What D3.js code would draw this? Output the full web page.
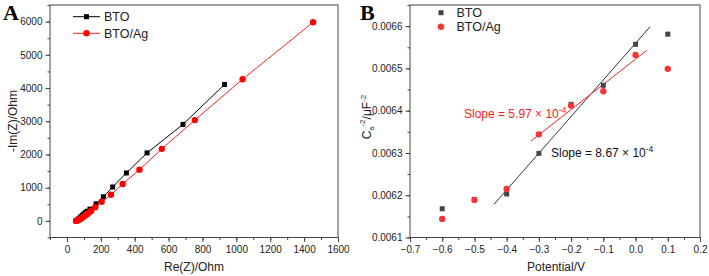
<!DOCTYPE html>
<html>
<head>
<meta charset="utf-8">
<script src="https://cdn.jsdelivr.net/npm/d3@7"></script>
<style>
  body { margin: 0; background: #fff; }
  svg text { font-family: Arial, "Liberation Sans", sans-serif; }
  svg text.panel { font-family: "Liberation Serif", "DejaVu Serif", serif; font-weight: bold; }
</style>
</head>
<body>
<svg id="chart" width="709" height="276"></svg>
<script>
/* Panel A: Nyquist data, Re(Z) and -Im(Z) in Ohm */
var btoRe = [54, 57, 62, 68, 75, 82, 90, 98, 108, 120, 136, 172, 215, 270, 351, 473, 685, 930];
var btoIm = [2, 12, 30, 55, 85, 120, 160, 200, 251, 290, 354, 514, 726, 1020, 1443, 2048, 2905, 4106];
var agRe = [54, 57, 61, 66, 72, 78, 85, 92, 100, 110, 120, 130, 143, 167, 205, 260, 329, 428, 560, 755, 1037, 1453];
var agIm = [0, 5, 13, 25, 40, 58, 80, 105, 135, 170, 210, 250, 300, 414, 575, 787, 1110, 1543, 2169, 3035, 4266, 5982];

/* Panel B: Mott-Schottky data */
var potential = [-0.6, -0.5, -0.4, -0.3, -0.2, -0.1, 0.0, 0.1];
var btoCs = [0.006168, 0.00619, 0.006203, 0.006299, 0.006415, 0.00646, 0.006557, 0.006581];
var agCs = [0.006144, 0.006189, 0.006215, 0.006344, 0.006412, 0.006446, 0.006532, 0.006499];

/* Linear fits: slope, intercept at 0 V, start and end potential */
var btoFit = [8.67e-4, 0.0065595, -0.44, 0.045];
var agFit = [5.97e-4, 0.006522, -0.325, 0.035];

var seriesNames = ["BTO", "BTO/Ag"];

var svg = d3.select("#chart");
var frameColor = "#444";

/* Draw a boxed Origin-style frame with outward ticks */
function drawFrame(x, y, xMajor, xMinor, yMajor, yMinor, xFmt, yFmt) {
	var x0 = x.range()[0], x1 = x.range()[1];
	var y0 = y.range()[0], y1 = y.range()[1];
	var g = svg.append("g");

	var xa = g.append("g")
		.attr("transform", "translate(0," + y0 + ")")
		.call(d3.axisBottom(x).tickValues(xMinor).tickSize(2.5).tickFormat(""));
	xa.select(".domain").remove();
	var xb = g.append("g")
		.attr("transform", "translate(0," + y0 + ")")
		.call(d3.axisBottom(x).tickValues(xMajor).tickSize(4.5).tickPadding(4).tickFormat(xFmt));
	xb.select(".domain").remove();

	var ya = g.append("g")
		.attr("transform", "translate(" + x0 + ",0)")
		.call(d3.axisLeft(y).tickValues(yMinor).tickSize(2.5).tickFormat(""));
	ya.select(".domain").remove();
	var yb = g.append("g")
		.attr("transform", "translate(" + x0 + ",0)")
		.call(d3.axisLeft(y).tickValues(yMajor).tickSize(4.5).tickPadding(3).tickFormat(yFmt));
	yb.select(".domain").remove();

	g.selectAll(".tick line").attr("stroke", frameColor);
	g.selectAll(".tick text").attr("font-size", 10).attr("fill", "#222");

	g.append("rect")
		.attr("x", x0).attr("y", y1)
		.attr("width", x1 - x0).attr("height", y0 - y1)
		.attr("fill", "none").attr("stroke", frameColor).attr("stroke-width", 1);
}

function range(a, b, step) {
	var out = [];
	for (var v = a; v <= b + step / 2; v += step) out.push(+v.toFixed(6));
	return out;
}

/* ---------- Panel A ---------- */
var xA = d3.scaleLinear().domain([-100, 1600]).range([50, 338]);
var yA = d3.scaleLinear().domain([-500, 6500]).range([237.5, 5]);

drawFrame(xA, yA,
	range(0, 1600, 200), range(-100, 1600, 100),
	range(0, 6000, 1000), range(-500, 6500, 500),
	d3.format("d"), d3.format("d"));

var lineA = d3.line().x(function(d) { return xA(d[0]); }).y(function(d) { return yA(d[1]); });
var btoPts = d3.zip(btoRe, btoIm);
var agPts = d3.zip(agRe, agIm);

svg.append("path").attr("d", lineA(btoPts))
	.attr("fill", "none").attr("stroke", "#000").attr("stroke-width", 1);
svg.append("g").selectAll("rect").data(btoPts).enter().append("rect")
	.attr("x", function(d) { return xA(d[0]) - 2.5; })
	.attr("y", function(d) { return yA(d[1]) - 2.5; })
	.attr("width", 5).attr("height", 5).attr("fill", "#000");
svg.append("path").attr("d", lineA(agPts))
	.attr("fill", "none").attr("stroke", "#ff2020").attr("stroke-width", 1);
svg.append("g").selectAll("circle").data(agPts).enter().append("circle")
	.attr("cx", function(d) { return xA(d[0]); })
	.attr("cy", function(d) { return yA(d[1]); })
	.attr("r", 3.2).attr("fill", "#ff0000");

// Legend A
[0, 1].forEach(function(i) {
	var ly = 16.7 + i * 16.6;
	var col = i == 0 ? "#000" : "#ff2020";
	svg.append("line").attr("x1", 73).attr("x2", 100).attr("y1", ly).attr("y2", ly)
		.attr("stroke", col).attr("stroke-width", 1);
	if (i == 0) {
		svg.append("rect").attr("x", 84).attr("y", ly - 2.5).attr("width", 5).attr("height", 5).attr("fill", "#000");
	} else {
		svg.append("circle").attr("cx", 86.5).attr("cy", ly).attr("r", 3.2).attr("fill", "#ff0000");
	}
	svg.append("text").attr("x", 104).attr("y", ly + 4.3).attr("font-size", 12.5)
		.attr("fill", "#222").text(seriesNames[i]);
});

// Axis labels A
svg.append("text").attr("x", 194).attr("y", 271).attr("text-anchor", "middle")
	.attr("font-size", 12).attr("fill", "#222").text("Re(Z)/Ohm");
svg.append("text").attr("transform", "translate(17,121) rotate(-90)").attr("text-anchor", "middle")
	.attr("font-size", 12).attr("fill", "#222").text("-Im(Z)/Ohm");

svg.append("text").attr("class", "panel").attr("x", 3).attr("y", 20).attr("font-size", 22)
	.attr("fill", "#000").text("A");

/* ---------- Panel B ---------- */
var xB = d3.scaleLinear().domain([-0.7, 0.2]).range([410, 700]);
var yB = d3.scaleLinear().domain([0.0061, 0.00665]).range([237.5, 5]);

drawFrame(xB, yB,
	range(-0.7, 0.2, 0.1), range(-0.7, 0.2, 0.05),
	range(0.0061, 0.0066, 0.0001), range(0.0061, 0.00665, 0.00005),
	d3.format(".1f"), d3.format(".4f"));

function fitLine(f) {
	return [[f[2], f[1] + f[0] * f[2]], [f[3], f[1] + f[0] * f[3]]];
}
var lineB = d3.line().x(function(d) { return xB(d[0]); }).y(function(d) { return yB(d[1]); });

svg.append("path").attr("d", lineB(fitLine(btoFit)))
	.attr("fill", "none").attr("stroke", "#333").attr("stroke-width", 1);
svg.append("path").attr("d", lineB(fitLine(agFit)))
	.attr("fill", "none").attr("stroke", "#ff2020").attr("stroke-width", 1);

svg.append("g").selectAll("rect").data(d3.zip(potential, btoCs)).enter().append("rect")
	.attr("x", function(d) { return xB(d[0]) - 2.5; })
	.attr("y", function(d) { return yB(d[1]) - 2.5; })
	.attr("width", 5).attr("height", 5).attr("fill", "#444");
svg.append("g").selectAll("circle").data(d3.zip(potential, agCs)).enter().append("circle")
	.attr("cx", function(d) { return xB(d[0]); })
	.attr("cy", function(d) { return yB(d[1]); })
	.attr("r", 3.2).attr("fill", "#f43535");

// Legend B
svg.append("rect").attr("x", 438.5).attr("y", 10.2).attr("width", 5).attr("height", 5).attr("fill", "#444");
svg.append("circle").attr("cx", 441).attr("cy", 26.7).attr("r", 3.2).attr("fill", "#f43535");
svg.append("text").attr("x", 456.5).attr("y", 17).attr("font-size", 12.5).attr("fill", "#222").text(seriesNames[0]);
svg.append("text").attr("x", 456.5).attr("y", 31).attr("font-size", 12.5).attr("fill", "#222").text(seriesNames[1]);

// Slope annotations
function slopeText(x, y, col, val) {
	var t = svg.append("text").attr("x", x).attr("y", y).attr("font-size", 12).attr("fill", col);
	t.append("tspan").text("Slope = " + val + " \u00d7 10");
	t.append("tspan").attr("dy", -5).attr("font-size", 8.5).text("-4");
}
slopeText(464, 117.5, "#ff2020", "5.97");
slopeText(551, 157, "#111", "8.67");

// Axis labels B
svg.append("text").attr("x", 556).attr("y", 271).attr("text-anchor", "middle")
	.attr("font-size", 12).attr("fill", "#222").text("Potential/V");
var yl = svg.append("text").attr("transform", "translate(371,117) rotate(-90)").attr("text-anchor", "middle")
	.attr("font-size", 12).attr("fill", "#222");
yl.append("tspan").text("C");
yl.append("tspan").attr("font-size", 8).attr("dy", 3).text("s");
yl.append("tspan").attr("font-size", 8).attr("dy", -9).text("-2");
yl.append("tspan").attr("dy", 6).text("/\u03bcF");
yl.append("tspan").attr("font-size", 8).attr("dy", -5).text("-2");

svg.append("text").attr("class", "panel").attr("x", 360).attr("y", 20).attr("font-size", 22)
	.attr("fill", "#000").text("B");
</script>
</body>
</html>
